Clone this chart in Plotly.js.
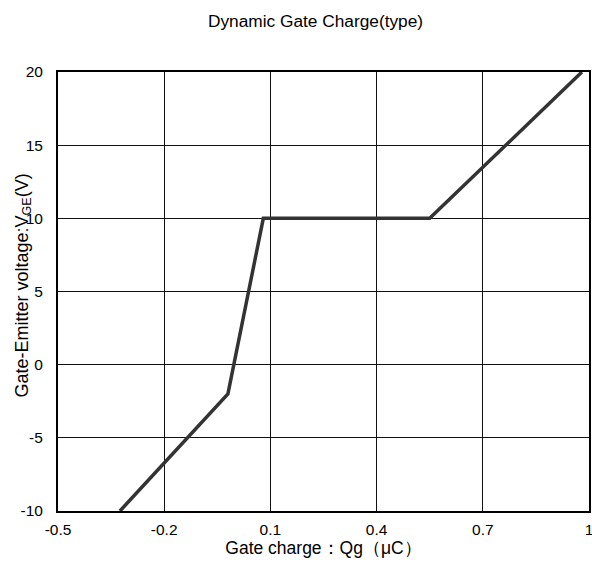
<!DOCTYPE html>
<html>
<head>
<meta charset="utf-8">
<script src="https://cdn.plot.ly/plotly-3.0.1.min.js"></script>
<style>html,body{margin:0;padding:0;background:#fff;}#chart{width:592px;height:562px;}</style>
</head>
<body>
<div id="chart"></div>
<script>
const qg = [-0.325, -0.02, 0.08, 0.55, 0.98];
const vge = [-10, -2, 10, 10, 20];
const xTicks = [-0.5, -0.2, 0.1, 0.4, 0.7, 1];
const xTickLabels = ['-0.5', '-0.2', '0.1', '0.4', '0.7', '1'];
const yTicks = [-10, -5, 0, 5, 10, 15, 20];
const yTickLabels = ['-10', '-5', '0', '5', '10', '15', '20'];
const chartTitle = 'Dynamic Gate Charge(type)';
const xTitle = 'Gate charge：Qg（μC）';
const yTitle = 'Gate-Emitter voltage:V<sub>GE</sub>(V)';

const trace = {
  x: qg, y: vge, type: 'scatter', mode: 'lines',
  line: {color: '#333333', width: 3.5},
  hoverinfo: 'skip'
};
const fam = 'Liberation Sans, Arial, sans-serif';
const L = 57.5, R = 3, T = 72, B = 51;
const plotH = 562 - T - B;
const layout = {
  width: 592, height: 562,
  margin: {l: L, r: R, t: T, b: B, pad: 0},
  paper_bgcolor: '#fff', plot_bgcolor: '#fff',
  showlegend: false,
  font: {family: fam, color: '#000', size: 15},
  title: {text: chartTitle, x: 315.5/592, xref: 'container', xanchor: 'center', y: 1 - 21/562, yref: 'container', yanchor: 'middle', font: {family: fam, size: 17.3, color: '#000'}},
  xaxis: {
    range: [-0.5, 1], tickvals: xTicks, ticktext: xTickLabels,
    showgrid: true, gridcolor: '#111', gridwidth: 1,
    zeroline: false, showline: true, linecolor: '#000', linewidth: 2, mirror: true,
    ticks: 'outside', ticklen: 3, tickcolor: 'rgba(0,0,0,0)',
    ticklabeloverflow: 'allow',
    tickfont: {family: fam, size: 15.5, color: '#000'},
    title: {text: xTitle, standoff: 0, font: {family: fam, size: 17.5, color: '#000'}},
    fixedrange: true
  },
  yaxis: {
    range: [-10, 20], tickvals: yTicks, ticktext: yTickLabels,
    showgrid: true, gridcolor: '#111', gridwidth: 1,
    zeroline: false, showline: true, linecolor: '#000', linewidth: 2, mirror: true,
    ticks: 'outside', ticklen: 10, tickcolor: 'rgba(0,0,0,0)',
    tickfont: {family: fam, size: 15.5, color: '#000'},
    fixedrange: true
  },
  annotations: [{
    text: yTitle, textangle: -90, showarrow: false,
    xref: 'paper', yref: 'paper',
    x: (22 - L) / (592 - L - R), y: 1 - (286 - T) / plotH,
    xanchor: 'center', yanchor: 'middle',
    font: {family: fam, size: 18, color: '#000'}
  }]
};
Plotly.newPlot('chart', [trace], layout, {displayModeBar: false, staticPlot: true});
</script>
</body>
</html>
